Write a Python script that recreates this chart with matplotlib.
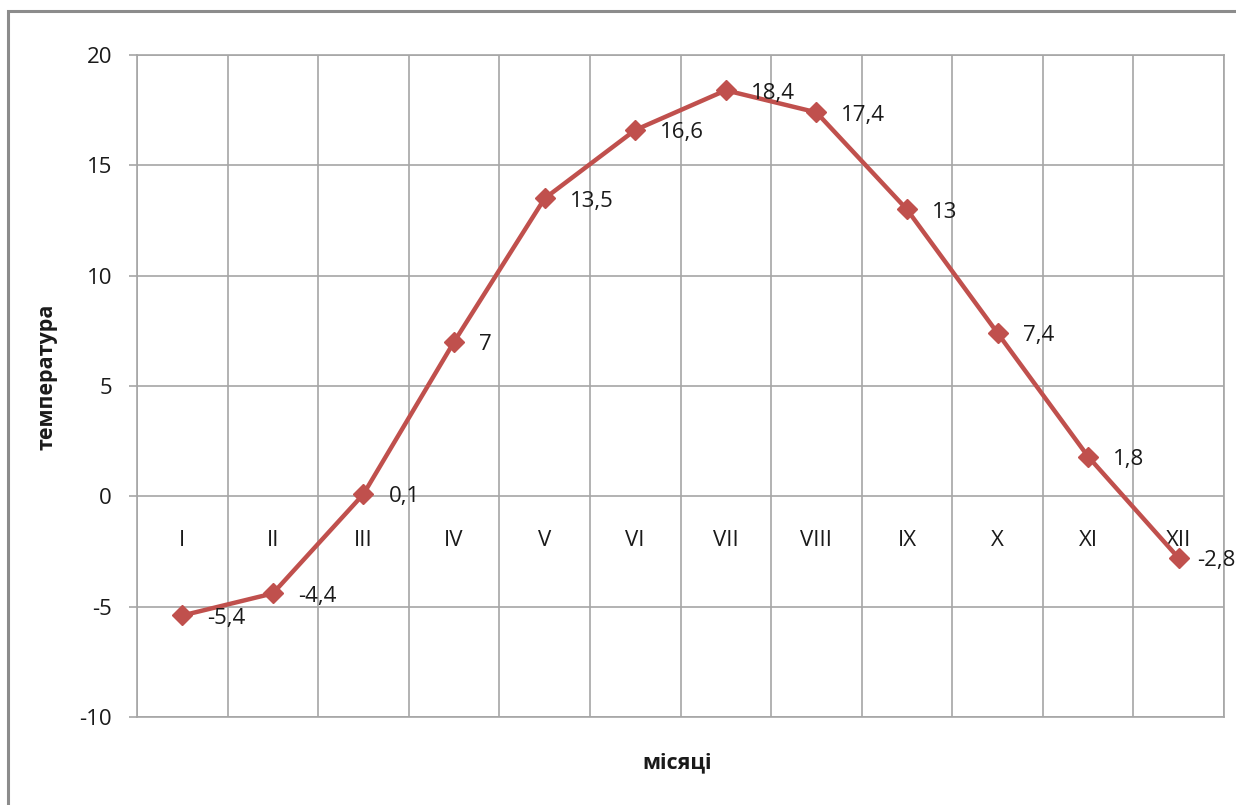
import matplotlib.pyplot as plt
from matplotlib.patches import Rectangle
import numpy as np

months = ['I', 'II', 'III', 'IV', 'V', 'VI', 'VII', 'VIII', 'IX', 'X', 'XI', 'XII']
temps = [-5.4, -4.4, 0.1, 7, 13.5, 16.6, 18.4, 17.4, 13, 7.4, 1.8, -2.8]
yticks = [-10, -5, 0, 5, 10, 15, 20]

plt.rcParams['font.family'] = ['Open Sans', 'DejaVu Sans']
grid_c = '#a6a6a6'
line_c = '#c0504d'
text_c = '#1a1a1a'

fig = plt.figure(figsize=(12.36, 8.05), dpi=100)
ax = fig.add_axes([137 / 1236, 1 - 717 / 805, (1224 - 137) / 1236, (717 - 55) / 805])

# outer chart frame (runs off the right and bottom edges)
fig.patches.append(Rectangle((8 / 1236, -0.05), 1.1, 1 - 11 / 805 + 0.05,
                             transform=fig.transFigure, fill=False,
                             edgecolor='#8c8c8c', linewidth=2.2))

x = np.arange(1, len(months) + 1)
ax.plot(x, temps, color=line_c, linewidth=3.2, marker='D', markersize=10.5,
        zorder=5, clip_on=False)

labels = []
for xi, t in zip(x, temps):
    lbl = f'{t:g}'.replace('.', ',')
    a = ax.annotate(lbl, (xi, t), xytext=(18, -2), textcoords='offset points',
                    ha='left', va='center', fontsize=16, color=text_c, zorder=6)
    labels.append(a)

for xi, m in zip(x, months):
    ax.annotate(m, (xi, 0), xytext=(0, -31.5), textcoords='offset points',
                ha='center', va='center', fontsize=16, color=text_c)

ax.set_xlim(0.5, len(months) + 0.5)
ax.set_ylim(-10, 20)
ax.set_yticks(yticks)
ax.set_yticklabels([str(v) for v in yticks], fontsize=16, color=text_c)
ax.set_xticks(np.arange(0.5, len(months) + 1, 1))
ax.set_xticklabels([])
ax.tick_params(axis='x', length=0)
ax.tick_params(axis='y', length=6, color=grid_c, width=1.2, pad=12)
ax.grid(True, color=grid_c, linewidth=1.2)
ax.set_axisbelow(True)
for s in ax.spines.values():
    s.set_color(grid_c)
    s.set_linewidth(1.2)

# axis titles
fig.text(47 / 1236, 1 - 377 / 805, 'температура', rotation=90, ha='center',
         va='center', fontsize=15.5, fontweight='bold', color=text_c)
fig.text(677 / 1236, 1 - 763 / 805, 'місяці', ha='center', va='center',
         fontsize=15.5, fontweight='bold', color=text_c)

# pull data labels back inside the figure if they run past the right edge
fig.canvas.draw()
r = fig.canvas.get_renderer()
for a in labels:
    bb = a.get_window_extent(r)
    over = bb.x1 - fig.bbox.x1
    if over > 0:
        dx, dy = a.xyann
        a.xyann = (dx - over * 72 / fig.dpi, dy)

fig.savefig('out.png', dpi=100)
